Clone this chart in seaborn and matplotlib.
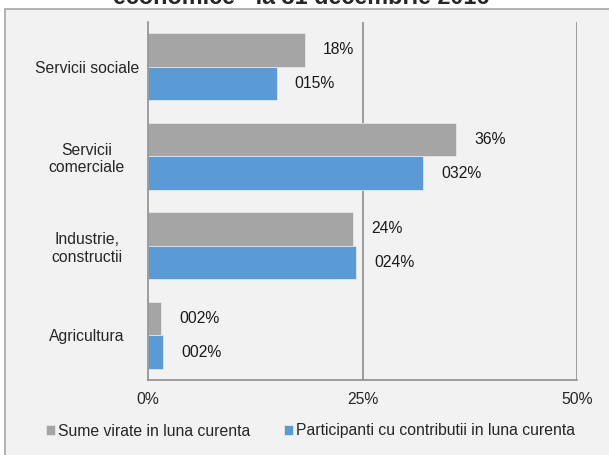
import pandas as pd
import matplotlib.pyplot as plt
import seaborn as sns
from matplotlib.patches import Rectangle
from matplotlib.ticker import FuncFormatter

# ------------------------ DATA ------------------------
categories = ["Servicii sociale", "Servicii\ncomerciale", "Industrie,\nconstructii", "Agricultura"]
series = ["Sume virate in luna curenta", "Participanti cu contributii in luna curenta"]
sume_virate = [18.3, 35.9, 23.9, 1.5]
participanti = [15.0, 32.1, 24.3, 1.8]
sume_labels = ["18%", "36%", "24%", "002%"]
part_labels = ["015%", "032%", "024%", "002%"]
x_ticks = [0, 25, 50]
title = "economice - la 31 decembrie 2016"

df = pd.DataFrame({
    "categorie": categories * 2,
    "serie": [series[0]] * 4 + [series[1]] * 4,
    "valoare": sume_virate + participanti,
})

sns.set_style("white")
plt.rcParams['font.family'] = ['Liberation Sans', 'DejaVu Sans']
fs = 11.3

fig = plt.figure(figsize=(6.09, 4.55), dpi=100)
fig.patch.set_facecolor("white")

# grey chart frame
fig.patches.append(Rectangle((5 / 609, -0.05), 1.0, 1 - 9 / 455 + 0.05,
                             transform=fig.transFigure, facecolor="#f2f2f2",
                             edgecolor="#a6a6a6", linewidth=1.2, zorder=-5))

ax = fig.add_axes([148 / 609, 1 - 380 / 455, (577 - 148) / 609, (380 - 22) / 455])
ax.set_facecolor("none")

sns.barplot(data=df, y="categorie", x="valoare", hue="serie", hue_order=series,
            order=categories, orient="h", palette=["#a5a5a5", "#5b9bd5"], saturation=1,
            width=0.75, edgecolor="#e6e6e6", linewidth=0.6, ax=ax, legend=True)

for cont, labs in zip(ax.containers, [sume_labels, part_labels]):
    ax.bar_label(cont, labels=labs, padding=13, fontsize=fs, color="#1a1a1a")

ax.set_xlim(0, 50)
ax.set_ylim(3.5, -0.5)
ax.set_xticks(x_ticks)
ax.xaxis.set_major_formatter(FuncFormatter(lambda v, p: f"{v:.0f}%"))
ax.set_xlabel("")
ax.set_ylabel("")

for v in x_ticks[1:]:
    ax.axvline(v, color="#868686", linewidth=1.1, zorder=0)

ax.set_yticks(range(len(categories)))
ax.set_yticklabels(categories, fontsize=fs, ha="center", multialignment="center")
ax.tick_params(axis="y", length=0, pad=44)
ax.set_yticks([-0.5, 0.5, 1.5, 2.5, 3.5], minor=True)
ax.tick_params(axis="y", which="minor", length=5, color="#868686", width=1.1)
ax.tick_params(axis="x", length=5, color="#868686", width=1.1, labelsize=fs, pad=4)

for s in ["top", "right"]:
    ax.spines[s].set_visible(False)
for s in ["left", "bottom"]:
    ax.spines[s].set_color("#868686")
    ax.spines[s].set_linewidth(1.1)

handles, labels = ax.get_legend_handles_labels()
ax.get_legend().remove()
fig.legend(handles, labels, loc="center", bbox_to_anchor=(0.51, 1 - 431 / 455), ncol=2,
           frameon=False, fontsize=fs, handlelength=0.6, handleheight=0.6,
           handletextpad=0.2, columnspacing=2.1)

fig.text(0.495, 1 - 4 / 455, title, ha="center", va="baseline",
         fontsize=16.8, fontweight="bold")

fig.savefig("out.png", dpi=100)
